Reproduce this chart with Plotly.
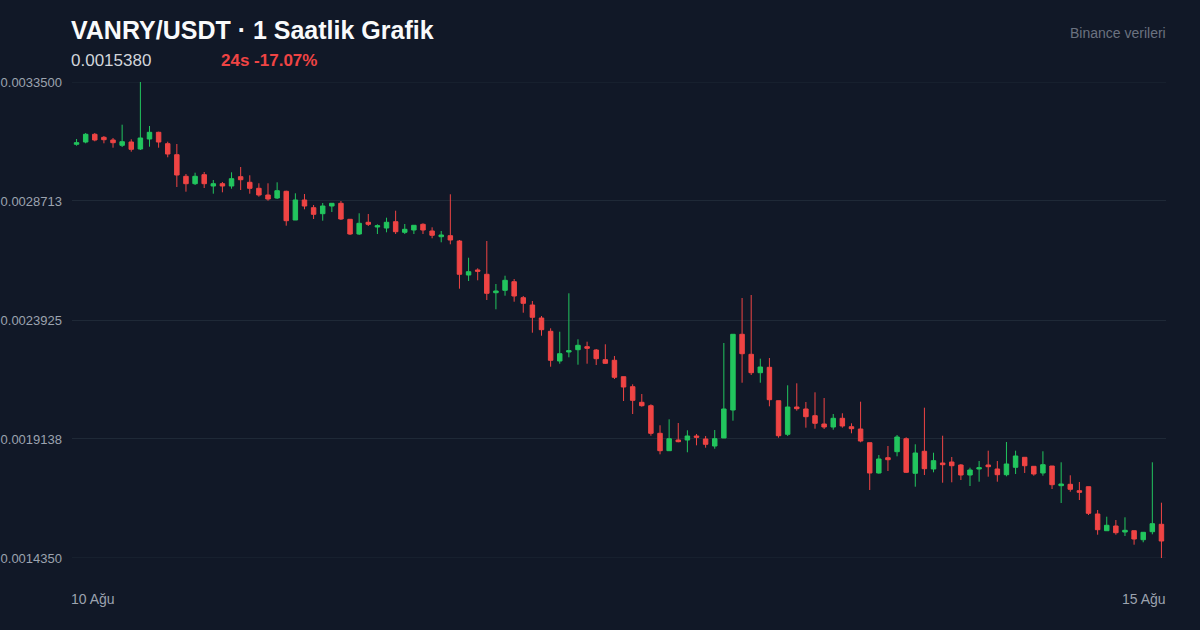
import plotly.graph_objects as go
import pandas as pd

# ---- data (hourly candles, VANRY/USDT) ----
times = pd.date_range("2025-08-10 01:00", periods=120, freq="h")

open_ = [0.0030994, 0.0031086, 0.0031396, 0.0031275, 0.0031167, 0.0030953, 0.0031086, 0.0030805, 0.0031207, 0.0031476,
         0.0031018, 0.0030575, 0.0029706, 0.0029409, 0.0029771, 0.0029316, 0.0029409, 0.0029316, 0.0029690, 0.0029465,
         0.0029223, 0.0028954, 0.0028833, 0.0029103, 0.0027948, 0.0028753, 0.0028443, 0.0028202, 0.0028511, 0.0028620,
         0.0027976, 0.0027385, 0.0027856, 0.0027666, 0.0027626, 0.0027880, 0.0027453, 0.0027546, 0.0027775, 0.0027506,
         0.0027276, 0.0027317, 0.0027103, 0.0025735, 0.0025937, 0.0025764, 0.0025023, 0.0025120, 0.0025466, 0.0024822,
         0.0024528, 0.0024005, 0.0023470, 0.0022276, 0.0022638, 0.0022730, 0.0022851, 0.0022718, 0.0022328, 0.0022304,
         0.0021644, 0.0021242, 0.0020614, 0.0020477, 0.0019367, 0.0018667, 0.0019097, 0.0019097, 0.0019258, 0.0019138,
         0.0018856, 0.0019178, 0.0020304, 0.0023350, 0.0022545, 0.0021805, 0.0022022, 0.0020678, 0.0019327, 0.0020425,
         0.0020345, 0.0020075, 0.0019741, 0.0019620, 0.0019970, 0.0019632, 0.0019540, 0.0018989, 0.0017770, 0.0018385,
         0.0018627, 0.0019150, 0.0017758, 0.0018643, 0.0017931, 0.0018172, 0.0018212, 0.0018092, 0.0017689, 0.0017931,
         0.0018092, 0.0017931, 0.0017701, 0.0017999, 0.0018401, 0.0018039, 0.0017770, 0.0018051, 0.0017259, 0.0017315,
         0.0017058, 0.0017219, 0.0016120, 0.0015448, 0.0015637, 0.0015396, 0.0015448, 0.0015086, 0.0015408, 0.0015706]

high = [0.0031207, 0.0031448, 0.0031448, 0.0031328, 0.0031247, 0.0031782, 0.0031195, 0.0033500, 0.0031730, 0.0031500,
        0.0031098, 0.0031006, 0.0029799, 0.0029851, 0.0029879, 0.0029557, 0.0029477, 0.0029867, 0.0030080, 0.0029746,
        0.0029425, 0.0029425, 0.0029465, 0.0029127, 0.0029022, 0.0028994, 0.0028552, 0.0028632, 0.0028620, 0.0028713,
        0.0027988, 0.0028218, 0.0028190, 0.0027775, 0.0028041, 0.0028322, 0.0027787, 0.0027735, 0.0027815, 0.0027654,
        0.0027506, 0.0028982, 0.0027144, 0.0026431, 0.0026005, 0.0027103, 0.0025373, 0.0025707, 0.0025575, 0.0024891,
        0.0024689, 0.0024086, 0.0023591, 0.0023454, 0.0024999, 0.0023149, 0.0023052, 0.0022758, 0.0022947, 0.0022477,
        0.0021644, 0.0021338, 0.0020948, 0.0020533, 0.0019689, 0.0019930, 0.0019781, 0.0019488, 0.0019339, 0.0019258,
        0.0019500, 0.0023000, 0.0023350, 0.0024810, 0.0024931, 0.0022368, 0.0022396, 0.0020678, 0.0021298, 0.0021378,
        0.0020626, 0.0021016, 0.0020787, 0.0020143, 0.0020172, 0.0019769, 0.0020638, 0.0018989, 0.0018494, 0.0018856,
        0.0019298, 0.0019206, 0.0018924, 0.0020397, 0.0018586, 0.0019270, 0.0018413, 0.0018132, 0.0017983, 0.0018252,
        0.0018667, 0.0018252, 0.0019017, 0.0018667, 0.0018401, 0.0018039, 0.0018643, 0.0018051, 0.0018200, 0.0017677,
        0.0017408, 0.0017219, 0.0016281, 0.0016012, 0.0015879, 0.0015987, 0.0015448, 0.0015384, 0.0018200, 0.0016575]

low = [0.0030937, 0.0031034, 0.0031114, 0.0031034, 0.0030857, 0.0030885, 0.0030696, 0.0030764, 0.0030897, 0.0030857,
       0.0030471, 0.0029276, 0.0029087, 0.0029356, 0.0029235, 0.0029006, 0.0029062, 0.0029207, 0.0029155, 0.0029006,
       0.0028886, 0.0028725, 0.0028793, 0.0027719, 0.0027948, 0.0028379, 0.0027988, 0.0027920, 0.0028270, 0.0027948,
       0.0027345, 0.0027345, 0.0027707, 0.0027385, 0.0027453, 0.0027385, 0.0027385, 0.0027385, 0.0027385, 0.0027212,
       0.0027051, 0.0026971, 0.0025184, 0.0025494, 0.0025522, 0.0024730, 0.0024356, 0.0024903, 0.0024661, 0.0024219,
       0.0023414, 0.0023293, 0.0022046, 0.0022167, 0.0022424, 0.0022127, 0.0022167, 0.0022115, 0.0022155, 0.0021551,
       0.0020666, 0.0020143, 0.0020437, 0.0019270, 0.0018522, 0.0018667, 0.0019005, 0.0018603, 0.0018884, 0.0018788,
       0.0018747, 0.0019178, 0.0019874, 0.0021402, 0.0021712, 0.0021402, 0.0020453, 0.0019190, 0.0019258, 0.0020276,
       0.0019592, 0.0019552, 0.0019540, 0.0019512, 0.0019592, 0.0019367, 0.0019005, 0.0017086, 0.0017742, 0.0017850,
       0.0018442, 0.0017770, 0.0017219, 0.0017689, 0.0017798, 0.0017379, 0.0017395, 0.0017488, 0.0017247, 0.0017420,
       0.0017621, 0.0017420, 0.0017637, 0.0017729, 0.0017770, 0.0017661, 0.0017661, 0.0017126, 0.0016563, 0.0017017,
       0.0016683, 0.0016080, 0.0015287, 0.0015448, 0.0015287, 0.0015235, 0.0014885, 0.0014982, 0.0015303, 0.0014350]

close = [0.0031058, 0.0031396, 0.0031167, 0.0031179, 0.0031058, 0.0031098, 0.0030792, 0.0031247, 0.0031476, 0.0031086,
         0.0030603, 0.0029758, 0.0029409, 0.0029706, 0.0029409, 0.0029409, 0.0029316, 0.0029610, 0.0029569, 0.0029223,
         0.0028954, 0.0028793, 0.0029127, 0.0027920, 0.0028753, 0.0028511, 0.0028177, 0.0028511, 0.0028620, 0.0027988,
         0.0027385, 0.0027815, 0.0027775, 0.0027719, 0.0027856, 0.0027477, 0.0027574, 0.0027735, 0.0027546, 0.0027333,
         0.0027345, 0.0027144, 0.0025764, 0.0025868, 0.0025884, 0.0024999, 0.0025092, 0.0025522, 0.0024891, 0.0024597,
         0.0024034, 0.0023535, 0.0022304, 0.0022569, 0.0022690, 0.0022907, 0.0022787, 0.0022368, 0.0022183, 0.0021620,
         0.0021229, 0.0020694, 0.0020477, 0.0019367, 0.0018667, 0.0019150, 0.0019029, 0.0019258, 0.0019206, 0.0018924,
         0.0019150, 0.0020345, 0.0023350, 0.0022569, 0.0021805, 0.0022034, 0.0020719, 0.0019270, 0.0020425, 0.0020357,
         0.0020035, 0.0019769, 0.0019620, 0.0019970, 0.0019661, 0.0019552, 0.0019057, 0.0017770, 0.0018333, 0.0018305,
         0.0019218, 0.0017798, 0.0018574, 0.0017943, 0.0018265, 0.0018104, 0.0018063, 0.0017689, 0.0017890, 0.0017983,
         0.0018023, 0.0017701, 0.0018132, 0.0018454, 0.0018063, 0.0017729, 0.0018104, 0.0017299, 0.0017327, 0.0017114,
         0.0016993, 0.0016148, 0.0015489, 0.0015666, 0.0015368, 0.0015464, 0.0015114, 0.0015384, 0.0015730, 0.0015034]

y_ticks = [0.0033500, 0.0028713, 0.0023925, 0.0019138, 0.0014350]
y_tick_text = ["0.0033500", "0.0028713", "0.0023925", "0.0019138", "0.0014350"]
x_labels = ["10 Ağu", "15 Ağu"]

title_text = "VANRY/USDT · 1 Saatlik Grafik"
price_text = "0.0015380"
change_text = "24s -17.07%"
source_text = "Binance verileri"

# ---- style ----
BG = "#111827"
GRID = "#1f2937"
GREEN = "#22c55e"
RED = "#ef4444"
FONT = "Liberation Sans, Arial, sans-serif"

fig = go.Figure(go.Candlestick(
    x=times, open=open_, high=high, low=low, close=close,
    increasing=dict(line=dict(color=GREEN, width=1), fillcolor=GREEN),
    decreasing=dict(line=dict(color=RED, width=1), fillcolor=RED),
    whiskerwidth=0, showlegend=False, hoverinfo="skip",
))

half = pd.Timedelta(minutes=30)
fig.update_layout(
    width=1200, height=630,
    paper_bgcolor=BG, plot_bgcolor=BG,
    margin=dict(l=72, r=34, t=82, b=72, autoexpand=False),
    font=dict(family=FONT),
    xaxis=dict(rangeslider=dict(visible=False), showgrid=False, showticklabels=False,
               zeroline=False, showline=False, ticks="", automargin=False,
               range=[times[0] - half, times[-1] + half]),
    yaxis=dict(range=[y_ticks[-1], y_ticks[0]], tickmode="array", automargin=False,
               tickvals=y_ticks, ticktext=y_tick_text, showgrid=True, gridcolor=GRID,
               gridwidth=1, zeroline=False, showline=False, ticks="",
               ticklabelstandoff=9, tickfont=dict(size=13, color="#9ca3af", family=FONT)),
)

# grid lines at the range ends (plotly drops edge grid lines)
for v in (y_ticks[0], y_ticks[-1]):
    fig.add_shape(type="line", xref="paper", yref="y", x0=0, x1=1, y0=v, y1=v,
                  line=dict(color=GRID, width=1), layer="below")

def py(p):
    # pixel row -> paper coordinate (plot spans rows 82..558)
    return (558 - p) / 476

annotations = [
    dict(text=title_text, x=0, y=py(30.5), xanchor="left", yanchor="middle", xshift=-3,
         font=dict(size=25, color="#f9fafb", family=FONT, weight=700)),
    dict(text=price_text, x=0, y=py(60.5), xanchor="left", yanchor="middle", xshift=-3,
         font=dict(size=17, color="#d1d5db", family=FONT)),
    dict(text=change_text, x=(222 - 72) / 1094, y=py(60.5), xanchor="left", yanchor="middle", xshift=-3,
         font=dict(size=17, color=RED, family=FONT, weight=700)),
    dict(text=source_text, x=1, y=py(33), xanchor="right", yanchor="middle", xshift=2,
         font=dict(size=14, color="#6b7280", family=FONT)),
    dict(text=x_labels[0], x=0, y=py(599), xanchor="left", yanchor="middle", xshift=-3,
         font=dict(size=14, color="#9ca3af", family=FONT)),
    dict(text=x_labels[1], x=1, y=py(599), xanchor="right", yanchor="middle", xshift=2,
         font=dict(size=14, color="#9ca3af", family=FONT)),
]
for a in annotations:
    a.update(xref="paper", yref="paper", showarrow=False)
fig.update_layout(annotations=annotations)

fig.write_html("out.html", config={"displayModeBar": False},
               post_script="document.body.style.margin='0';document.body.style.overflow='hidden';")
